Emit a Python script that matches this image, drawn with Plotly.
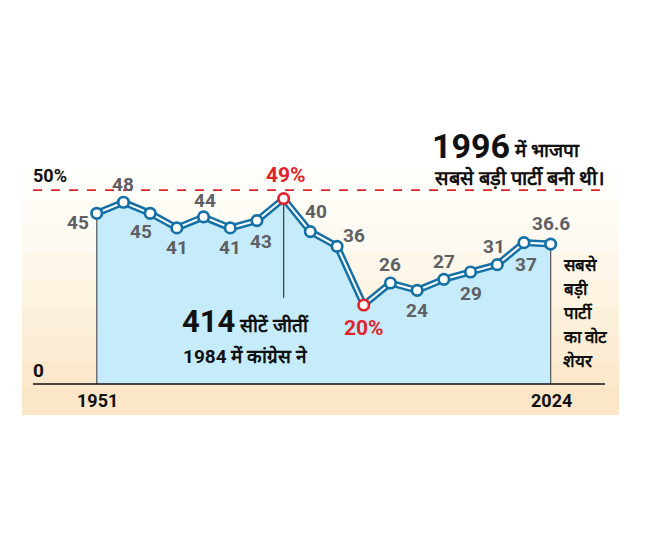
import plotly.graph_objects as go

# BJP vote share in Lok Sabha elections (largest party share), per election
years = ["1951", "1957", "1962", "1967", "1971", "1977", "1980", "1984", "1989",
         "1991", "1996", "1998", "1999", "2004", "2009", "2014", "2019", "2024"]
share = [45, 48, 45, 41, 44, 41, 43, 49, 40, 36, 20, 26, 24, 27, 29, 31, 37, 36.6]
point_labels = ["45", "48", "45", "41", "44", "41", "43", "49%", "40", "36",
                "20%", "26", "24", "27", "29", "31", "37", "36.6"]
red_points = ["1984", "1996"]
tick_years = ["1951", "2024"]

# label offsets in pixels (dx, dy) from each point
label_offsets = [(-19, -9), (0, 18), (-9, -18), (0, -20), (1, 16), (0, -20), (4, -21),
                 (2, 24), (6, 20), (17, 11), (0, -23), (0, 18), (0, -20), (0, 18),
                 (0, -22), (-3, 18), (2, -22), (0, 21)]

FONT = "Roboto, Liberation Sans, sans-serif"
BLUE = "#1570a6"
RED = "#e1232b"
GREY = "#5e6064"
FILL = "#c6ecfc"

W, H = 650, 540
OFF = 8  # page body margin
L, R, T, B = 22, 31, 90, 125


def px(x, y):
    return (x - L) / (W - L - R), (H - B - y) / (H - T - B)


BASE = -1.5  # axis sits a touch under zero
idx = list(range(len(years)))
fig = go.Figure()

# background gradient (white top -> cream bottom)
bands = ["#ffffff", "#ffffff", "#ffffff", "#fffefb", "#fffcf6", "#fffaf1", "#fef7ea",
         "#fef4e2", "#fdf0da", "#fcedd4", "#fce9cd", "#fbe6c7"]
for k, c in enumerate(bands):
    fig.add_shape(type="rect", xref="paper", yref="paper", x0=0, x1=1,
                  y0=1 - (k + 1) / len(bands), y1=1 - k / len(bands),
                  fillcolor=c, line_width=0, layer="below")

fig.add_trace(go.Scatter(x=idx, y=[BASE] * len(idx), mode="lines",
                         line=dict(width=0), hoverinfo="skip"))
fig.add_trace(go.Scatter(x=idx, y=share, mode="lines", fill="tonexty",
                         fillcolor=FILL, line=dict(width=0), hoverinfo="skip"))

# drop lines at both ends and from 1984 peak
fig.add_trace(go.Scatter(x=[0, 0], y=[share[0], BASE], mode="lines",
                         line=dict(color=GREY, width=1.3), hoverinfo="skip"))
fig.add_trace(go.Scatter(x=[idx[-1], idx[-1]], y=[share[-1], BASE], mode="lines",
                         line=dict(color=GREY, width=1.3), hoverinfo="skip"))
i84 = years.index("1984")
fig.add_trace(go.Scatter(x=[i84, i84], y=[share[i84], 22], mode="lines",
                         line=dict(color="#444444", width=1.3), hoverinfo="skip"))

# double-stroke line
fig.add_trace(go.Scatter(x=idx, y=share, mode="lines",
                         line=dict(color=BLUE, width=7), hoverinfo="skip"))
fig.add_trace(go.Scatter(x=idx, y=share, mode="lines",
                         line=dict(color="white", width=2), hoverinfo="skip"))
fig.add_trace(go.Scatter(
    x=idx, y=share, mode="markers",
    marker=dict(size=10.5, color="white",
                line=dict(width=2.7, color=[RED if y in red_points else BLUE for y in years])),
    hoverinfo="skip"))

for i, (lab, (dx, dy)) in enumerate(zip(point_labels, label_offsets)):
    fig.add_annotation(x=i, y=share[i], text=lab, showarrow=False,
                       xshift=dx, yshift=dy,
                       font=dict(family=FONT, size=21 if years[i] in red_points else 19,
                                 color=RED if years[i] in red_points else GREY, weight=700))

# 50% dashed reference and x axis line
fig.add_shape(type="line", xref="paper", yref="y", x0=px(33, 0)[0], x1=px(605, 0)[0],
              y0=51.3, y1=51.3, line=dict(color=RED, width=1.8, dash="dash"))
fig.add_shape(type="line", xref="paper", yref="y", x0=px(33, 0)[0], x1=px(605, 0)[0],
              y0=BASE, y1=BASE, line=dict(color="#111111", width=1.5))


def text(x, y, s, size, weight=400, color="#111111", xanchor="center"):
    ax, ay = px(x, y)
    fig.add_annotation(xref="paper", yref="paper", x=ax, y=ay, text=s, showarrow=False,
                       xanchor=xanchor, yanchor="middle",
                       font=dict(family=FONT, size=size, color=color, weight=weight))


text(50, 175, "50%", 18, 700)
text(38, 370, "0", 19, 700)
for ty in tick_years:
    text(97 if ty == years[0] else 551, 400, ty, 18, 700)

text(471, 146, "1996", 34, 700)
text(512, 150, "में भाजपा", 19, 700, xanchor="left")
text(519, 178, "सबसे बड़ी पार्टी बनी थी।", 20, 700)

text(208, 321, "414", 31, 700)
text(237, 325, "सीटें जीतीं", 19, 700, xanchor="left")
text(245, 356, "1984 में कांग्रेस ने", 19, 700)

for k, s in enumerate(["सबसे", "बड़ी", "पार्टी", "का वोट", "शेयर"]):
    text(561, 265 + k * 24, s, 17, 700, xanchor="left")

fig.update_layout(
    width=W, height=H,
    margin=dict(l=L - OFF, r=R + OFF, t=T - OFF, b=B + OFF),
    paper_bgcolor="white", plot_bgcolor="rgba(0,0,0,0)",
    showlegend=False,
    xaxis=dict(range=[-2.8, 19.56], visible=False, fixedrange=True),
    yaxis=dict(range=[-9.98, 78.6], visible=False, fixedrange=True),
)

fig.write_html("out.html")
